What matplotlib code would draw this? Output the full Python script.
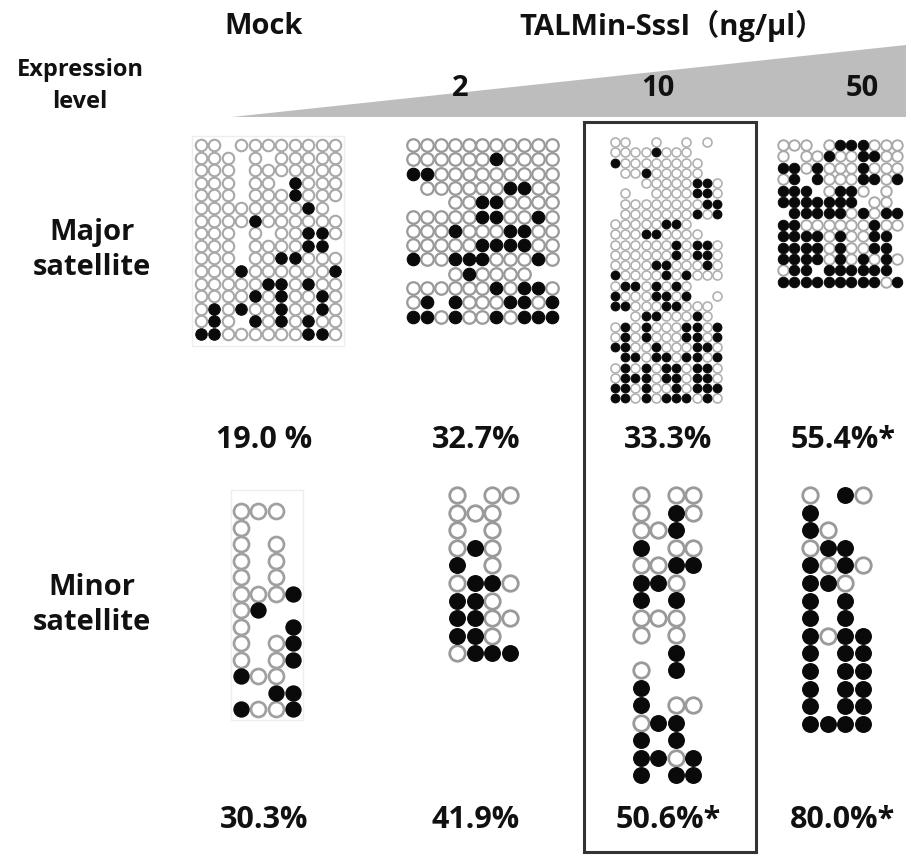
import numpy as np
import matplotlib.pyplot as plt
from matplotlib.patches import Polygon, Rectangle

plt.rcParams['font.family'] = ['Open Sans', 'Noto Sans CJK JP', 'DejaVu Sans']

# methylation patterns: x = methylated, o = unmethylated, . = no site
major_mock = ["oo.oooooooo",
              "ooo.o.ooooo",
              "ooo.ooooooo",
              "ooo.oo.xooo",
              "ooo.oooxooo",
              "ooooooooxo.",
              "ooooxoooooo",
              "ooo.o.ooxxo",
              "ooo.ooooxx.",
              "ooo.ooxxooo",
              "oooxoooooox",
              "oooooxxoxoo",
              "ooooxoxooxo",
              "oxoxooxooxo",
              "oxo.xoxoxoo",
              "xxooooooxxo"]
major_2 = ["ooooooooooo",
           "ooooooxoooo",
           "xxooooooooo",
           ".ooooooxxoo",
           "...ooxxoooo",
           "oooooxxooxo",
           "oooxoooxxoo",
           "oooooxxxxoo",
           "xooxxxoooxo",
           "...oxoooo..",
           "ooooooxoxxo",
           "ox.xoooxxox",
           "xxoxooxoxxx"]
major_10 = ["oo..o..o.o.",
            "ooooxooo...",
            "xoooooooo..",
            ".ooxooooo..",
            "...oooooxxo",
            ".o..ooooxxo",
            ".ooooooooxx",
            ".oooooooxox",
            "oooooxxo...",
            "oooxxoooo..",
            "ooooooxoxxo",
            "ooooooxoxxo",
            "ooooxxoooxo",
            "xooooxoxooo",
            "oxxoxoxo...",
            "xoooxxox..o",
            "xxoooxxooo.",
            "..oxxoooxo.",
            "oxoxoooxxox",
            "oxoxoooxxox",
            "xxooxoooxxo",
            ".xxoxxoxxox",
            "oxoxoxxoxxo",
            "oxxxoxxoxxo",
            "xxoxooxoxxx",
            "xxoxoxxxoxo"]
major_50 = ["ooo.oxxxooo",
            "o.ooxooxxoo",
            "xxoxoooxooo",
            "ox.xoooxxox",
            "xxx.oxxo.o.",
            "xxxxxxx.oo.",
            ".xxxxxoxoxx",
            "xxooooooxoo",
            "xxxxoxooxx.",
            "xxxxoxooxx.",
            "xxxxoxoxoxo",
            "oxx.xxxxxx.",
            "xxxxxxxxxox"]
minor_mock = ["ooo.", "o...", "o.o.", "o.o.", "o.o.", "ooox", "ox..",
              "o..x", "o.ox", "o.ox", "xoo.", "..xx", "xoox"]
minor_2 = ["o.oo", "ooo.", "o.o.", "oxo.", "x.o.", "oxxo", "xxo.",
           "xxoo", "xxo.", "oxxx"]
minor_10 = ["o.oo", "o.xo", "oox.", "x.oo", "ooxx", "xxo.", "x.x.",
            "ooo.", "o.o.", "..x.", "o.x.", "x...", "x.oo", "oxx.",
            "x.x.", "xxox", "x.xx"]
minor_50 = ["o.xo", "x...", "xo..", "oxx.", "xoxo", "xxo.", "x.x.",
            "x.x.", "xoxx", "x.xx", "x.xx", "x.xx", "x.xx", "xxxx"]

columns = ["Mock", "2", "10", "50"]
major_pct = ["19.0 %", "32.7%", "33.3%", "55.4%*"]
minor_pct = ["30.3%", "41.9%", "50.6%*", "80.0%*"]

# panel layout in pixels: (pattern, first x, first y, dx, dy, dot diameter, ring colour)
panels = [
    (major_mock, 201, 145, 13.4, 12.6, 11.5, '#a8a8a8'),
    (major_2, 413, 145, 13.9, 14.3, 12.5, '#9a9a9a'),
    (major_10, 615, 142, 10.2, 10.25, 9.0, '#b0b0b0'),
    (major_50, 783, 145, 11.4, 11.4, 10.5, '#a8a8a8'),
    (minor_mock, 241, 511, 17.3, 16.5, 15.0, '#a0a0a0'),
    (minor_2, 457, 495, 17.7, 17.6, 15.5, '#9a9a9a'),
    (minor_10, 641, 495, 17.3, 17.5, 15.5, '#9a9a9a'),
    (minor_50, 810, 495, 17.7, 17.6, 15.5, '#9a9a9a'),
]

fig = plt.figure(figsize=(9.12, 8.58), dpi=100)
ax = fig.add_axes([0, 0, 1, 1])
ax.set_xlim(0, 912)
ax.set_ylim(858, 0)
ax.axis('off')

for pattern, x0, y0, dx, dy, d, ring in panels:
    grid = np.array([list(r) for r in pattern])
    rows, cols = np.indices(grid.shape)
    xs = x0 + cols * dx
    ys = y0 + rows * dy
    s = (d * 0.72) ** 2
    lw = d * 0.13
    m = grid == 'o'
    ax.scatter(xs[m], ys[m], s=s, facecolor='white', edgecolor=ring,
               linewidth=lw, zorder=3)
    m = grid == 'x'
    ax.scatter(xs[m], ys[m], s=s, facecolor='#0a0a0a', edgecolor='#0a0a0a',
               linewidth=lw * 0.5, zorder=3)

# faint frames behind the mock panels
ax.add_patch(Rectangle((192, 136), 152, 210, fill=False, edgecolor='#eeeeee', lw=1))
ax.add_patch(Rectangle((231, 490), 72, 230, fill=False, edgecolor='#eeeeee', lw=1))

# concentration wedge
ax.add_patch(Polygon([(232, 117), (906, 45), (906, 117)], closed=True,
                     facecolor='#bdbdbd', edgecolor='none', zorder=1))

# box around the 10 ng/ul column
ax.add_patch(Rectangle((584, 122), 172, 730, fill=False, edgecolor='#333333',
                       lw=2.2, zorder=4))

bold = dict(fontweight='bold', ha='center', va='center', color='#111111')
col_x = [264, 476, 668, 843]

ax.text(col_x[0], 26, columns[0], fontsize=21, **bold)
ax.text(672, 26, "TALMin-SssI（ng/µl）", fontsize=21, **bold)
ax.text(80, 86, "Expression\nlevel", fontsize=17, linespacing=1.4, **bold)
for x, lab in zip([460, 658, 862], columns[1:]):
    ax.text(x, 88, lab, fontsize=21, zorder=2, **bold)

ax.text(92, 250, "Major\nsatellite", fontsize=21, linespacing=1.3, **bold)
ax.text(92, 605, "Minor\nsatellite", fontsize=21, linespacing=1.3, **bold)

for x, p in zip(col_x, major_pct):
    ax.text(x, 440, p, fontsize=22, **bold)
for x, p in zip(col_x, minor_pct):
    ax.text(x, 820, p, fontsize=22, **bold)

fig.savefig('out.png', dpi=100)
